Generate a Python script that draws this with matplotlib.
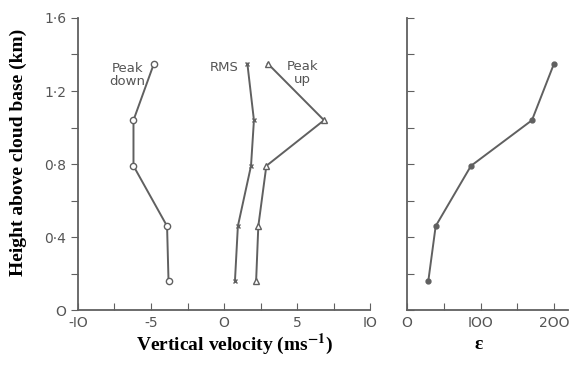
import matplotlib
matplotlib.use("Agg")
import matplotlib.pyplot as plt
import numpy as np

# heights above cloud base (km), shared by all profiles
height = [0.16, 0.46, 0.79, 1.04, 1.35]

peak_down = [-3.8, -3.9, -6.2, -6.2, -4.8]
rms = [0.75, 0.95, 1.85, 2.05, 1.6]
peak_up = [2.2, 2.35, 2.9, 6.85, 3.0]
eps = [29, 39, 87, 170, 200]

vel_ticks = [-10, -5, 0, 5, 10]
vel_labels = ['-IO', '-5', 'O', '5', 'IO']
h_ticks = [0, 0.4, 0.8, 1.2, 1.6]
h_labels = ['O', '0·4', '0·8', '1·2', '1·6']
eps_ticks = [0, 100, 200]
eps_labels = ['O', 'IOO', '2OO']

gray = '#606060'
txt = '#555555'
lw = 1.4

plt.rcParams['mathtext.fontset'] = 'stix'

fig = plt.figure(figsize=(5.71, 3.67), dpi=100)
ax1 = fig.add_axes([0.1366, 0.155, 0.5114, 0.796])
ax2 = fig.add_axes([0.7128, 0.155, 0.2819, 0.796])

def style(ax):
    for s in ['top', 'right']:
        ax.spines[s].set_visible(False)
    for s in ['left', 'bottom']:
        ax.spines[s].set_color(gray)
        ax.spines[s].set_linewidth(1.3)
    ax.set_ylim(0, 1.6)
    ax.set_yticks(np.arange(0, 1.61, 0.2))

style(ax1)
style(ax2)

ax1.plot(peak_down, height, color=gray, lw=lw, marker='o', ms=4.5, mfc='white', mec=gray, mew=1)
ax1.plot(rms, height, color=gray, lw=lw, marker='x', ms=3, mec=gray, mew=1)
ax1.plot(peak_up, height, color=gray, lw=lw, marker='^', ms=4.5, mfc='white', mec=gray, mew=1)
ax1.set_xlim(-10, 10)
ax1.set_xticks(np.arange(-10, 10.1, 2.5))
ax1.set_xticklabels([vel_labels[vel_ticks.index(v)] if v in vel_ticks else '' for v in np.arange(-10, 10.1, 2.5)])
ax1.set_yticklabels([h_labels[h_ticks.index(round(v, 1))] if round(v, 1) in h_ticks else '' for v in np.arange(0, 1.61, 0.2)])
ax1.tick_params(axis='x', direction='in', length=5, color=gray, labelcolor=txt, labelsize=10, pad=4)
ax1.tick_params(axis='y', direction='out', length=5, color=gray, labelcolor=txt, labelsize=10)

tfont = dict(color=txt, fontsize=9.5, ha='center', va='center', linespacing=1.0)
ax1.text(-6.6, 1.29, 'Peak\ndown', **tfont)
ax1.text(0.0, 1.33, 'RMS', **tfont)
ax1.text(5.4, 1.30, 'Peak\nup', **tfont)

ax2.plot(eps, height, color=gray, lw=lw, marker='o', ms=3.5, mfc=gray, mec=gray)
ax2.set_xlim(0, 219)
ax2.set_xticks(np.arange(0, 201, 50))
ax2.set_xticklabels([eps_labels[eps_ticks.index(v)] if v in eps_ticks else '' for v in range(0, 201, 50)])
ax2.set_yticklabels([])
ax2.tick_params(axis='x', direction='in', length=5, color=gray, labelcolor=txt, labelsize=10, pad=4)
ax2.tick_params(axis='y', direction='in', length=5, color=gray)

lab = dict(family='Liberation Serif', fontweight='bold', fontsize=14, color='black')
fig.text(0.032, 0.585, 'Height above cloud base (km)', rotation=90, ha='center', va='center', **lab)
fig.text(0.41, 0.062, 'Vertical velocity (ms$^{\\mathbf{-1}}$)', ha='center', va='center', **lab)
fig.text(0.839, 0.062, 'ε', ha='center', va='center', **lab)

fig.savefig('out.png', dpi=100)
